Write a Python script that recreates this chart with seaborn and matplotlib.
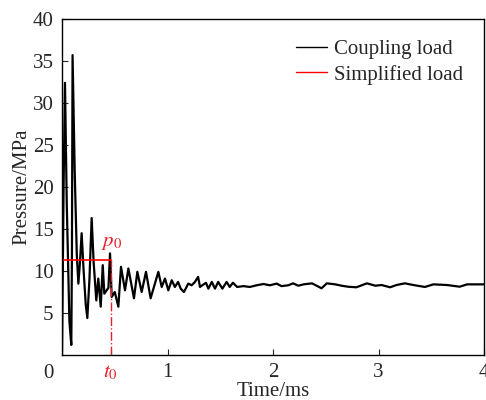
"""
Coupling load vs simplified load: pressure history over the first 4 ms.
"""

import matplotlib

matplotlib.use("Agg")
import matplotlib.pyplot as plt
import pandas as pd
import seaborn as sns
from matplotlib.lines import Line2D

# Pressure history (time in ms, pressure in MPa)
time_ms = [
    0.0, 0.015, 0.028, 0.045, 0.070, 0.088, 0.094, 0.100, 0.120, 0.140,
    0.155, 0.170, 0.186, 0.205, 0.225, 0.240, 0.260, 0.281, 0.300, 0.325,
    0.344, 0.367, 0.386, 0.401, 0.423, 0.440, 0.455, 0.471, 0.500, 0.534,
    0.559, 0.597, 0.629, 0.682, 0.714, 0.755, 0.796, 0.840, 0.913, 0.945,
    0.976, 1.008, 1.040, 1.070, 1.100, 1.125, 1.156, 1.197, 1.229, 1.260,
    1.290, 1.308, 1.330, 1.365, 1.387, 1.420, 1.450, 1.480, 1.520, 1.560,
    1.590, 1.620, 1.660, 1.720, 1.780, 1.845, 1.910, 1.970, 2.035, 2.080,
    2.145, 2.190, 2.240, 2.290, 2.370, 2.460, 2.510, 2.590, 2.650, 2.710,
    2.790, 2.890, 2.970, 3.030, 3.110, 3.170, 3.250, 3.330, 3.440, 3.520,
    3.650, 3.770, 3.840, 4.000,
]
pressure_mpa = [
    0.0, 20.0, 32.4, 18.0, 4.0, 1.2, 12.0, 35.7, 22.0, 12.0,
    8.5, 11.0, 14.5, 10.0, 6.0, 4.4, 9.0, 16.3, 11.0, 6.5,
    9.1, 5.75, 10.7, 7.3, 7.7, 8.0, 12.1, 6.9, 7.5, 5.75,
    10.5, 7.7, 10.3, 6.75, 9.9, 7.5, 9.9, 6.75, 9.9, 8.1,
    9.1, 7.7, 8.9, 8.1, 8.7, 7.9, 7.5, 8.5, 8.3, 8.7,
    9.3, 8.1, 8.3, 8.6, 7.9, 8.7, 7.9, 8.7, 7.9, 8.7,
    8.1, 8.6, 8.1, 8.2, 8.1, 8.3, 8.45, 8.3, 8.5, 8.2,
    8.3, 8.53, 8.25, 8.41, 8.53, 7.94, 8.53, 8.41, 8.25, 8.13,
    8.06, 8.53, 8.25, 8.33, 8.06, 8.33, 8.53, 8.33, 8.1, 8.41,
    8.33, 8.13, 8.41, 8.41,
]

# Simplified load: constant p0 up to t0
t0 = 0.46
p0 = 11.3
simplified_t = [0.0, t0]
simplified_p = [p0, p0]

x_ticks = [t0, 1, 2, 3, 4]
x_tick_labels = [r"$t_0$", "1", "2", "3", "4"]
y_ticks = [5, 10, 15, 20, 25, 30, 35, 40]

RED = "#e8202a"

sns.set_style("white")
plt.rcParams["font.family"] = ["Liberation Serif", "DejaVu Serif"]
plt.rcParams["mathtext.fontset"] = "stix"

fig = plt.figure(figsize=(4.86, 4.0), dpi=100)
ax = fig.add_axes([0.1276, 0.1125, 0.8683, 0.84])

coupling = pd.DataFrame({"t": time_ms, "p": pressure_mpa})
sns.lineplot(data=coupling, x="t", y="p", color="black", linewidth=1.6,
             estimator=None, sort=False, ax=ax)
for line in ax.get_lines():
    line.set_solid_joinstyle("round")

ax.plot(simplified_t, simplified_p, color="red", linewidth=1.2)
ax.plot([t0, t0], [0, p0], color=RED, linewidth=1.0, linestyle="-.")
ax.text(t0 + 0.01, 13.4, r"$p_0$", color=RED, fontsize=15,
        ha="center", va="center")

ax.set_xlim(0, 4)
ax.set_ylim(0, 40)
ax.set_xticks(x_ticks)
ax.set_xticklabels(x_tick_labels)
ax.set_yticks(y_ticks)
ax.get_xticklabels()[0].set_color(RED)
ax.xaxis.get_major_ticks()[0].tick1line.set_visible(False)

ax.tick_params(direction="in", length=4, width=0.8, labelsize=15, pad=6,
               bottom=True, left=True, top=False, right=False)
ax.set_xlabel("Time/ms", fontsize=15, labelpad=0)
ax.set_ylabel("Pressure/MPa", fontsize=15, labelpad=1)

# shared origin label
ax.text(-0.033, -0.054, "0", transform=ax.transAxes, fontsize=15,
        ha="center", va="center")

for spine in ax.spines.values():
    spine.set_color("black")
    spine.set_linewidth(1.0)

handles = [
    Line2D([], [], color="black", linewidth=1.0, label="Coupling load"),
    Line2D([], [], color="red", linewidth=1.0, label="Simplified load"),
]
ax.legend(handles=handles, loc="upper right", frameon=False, fontsize=15,
          handlelength=1.5, handletextpad=0.35, labelspacing=0.25,
          borderaxespad=0.6)

fig.savefig("out.png", dpi=100, facecolor="white")
